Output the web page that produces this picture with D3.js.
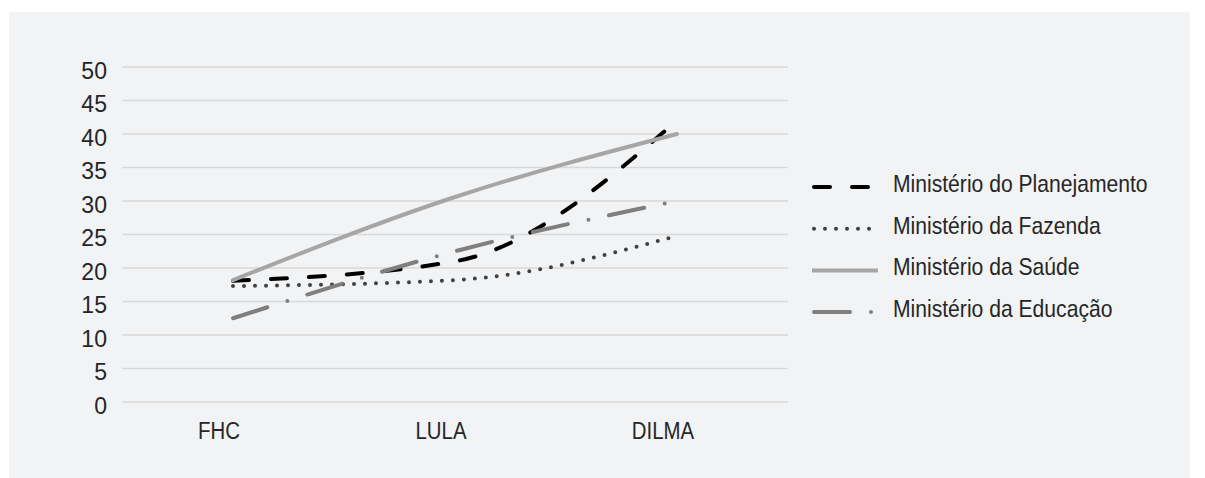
<!DOCTYPE html>
<html><head><meta charset="utf-8">
<script src="https://cdn.jsdelivr.net/npm/d3@7"></script>
<style>
html,body{margin:0;padding:0;background:#fff;}
svg{display:block;}
text{font-family:"Liberation Sans",Arial,sans-serif;fill:#262626;}
</style></head><body>
<svg id="c" width="1205" height="478"></svg>
<script>
const categories = ["FHC", "LULA", "DILMA"];
const planejamento = [18.1, 21, 42];
const fazenda = [17.3, 18.2, 24.8];
const saude = [18.2, 30.6, 40];
const educacao = [12.5, 22.5, 30];
const yTicks = [0, 5, 10, 15, 20, 25, 30, 35, 40, 45, 50];
const seriesNames = ["Ministério do Planejamento", "Ministério da Fazenda", "Ministério da Saúde", "Ministério da Educação"];

const styles = [
  {color: "#000000", dash: "16,22", width: 4},
  {color: "#404040", dash: "0,11", width: 4},
  {color: "#a6a6a6", dash: null, width: 4},
  {color: "#7f7f7f", dash: "36,21,0,21", width: 4}
];
const seriesData = [planejamento, fazenda, saude, educacao];

const FS = 24;       // font size
const SX_DIG = 0.96; // horizontal squeeze for digits
const SX_TXT = 0.85; // horizontal squeeze for words (condensed face)

const svg = d3.select("#c");
svg.append("rect").attr("x", 9).attr("y", 12).attr("width", 1181).attr("height", 466).attr("fill", "#f2f3f5");

const x = d3.scaleBand().domain(categories).range([122, 788]);
const y = d3.scaleLinear().domain([0, 50]).range([402, 67]);

// gridlines
svg.append("g").selectAll("line").data(yTicks).join("line")
  .attr("x1", 122).attr("x2", 788)
  .attr("y1", d => y(d)).attr("y2", d => y(d))
  .attr("stroke", "#d9d9d9").attr("stroke-width", 1.3);

// y axis
const ya = svg.append("g").attr("transform", "translate(122,0)")
  .call(d3.axisLeft(y).tickValues(yTicks).tickSize(0).tickPadding(15));
ya.select(".domain").remove();
ya.selectAll("text")
  .attr("x", -15 / SX_DIG).attr("dy", 11)
  .attr("transform", `scale(${SX_DIG},1)`)
  .style("font-size", FS + "px").attr("fill", "#262626");

// x axis
const xa = svg.append("g").attr("transform", "translate(0,402)")
  .call(d3.axisBottom(x).tickSize(0));
xa.select(".domain").remove();
xa.selectAll("text")
  .attr("x", -14 / SX_TXT).attr("y", 37).attr("dy", 0)
  .attr("transform", `scale(${SX_TXT},1)`)
  .style("font-size", FS + "px").attr("fill", "#262626");

const line = d3.line()
  .x((d, i) => x(categories[i]) + x.bandwidth() / 2)
  .y(d => y(d))
  .curve(d3.curveMonotoneX);

seriesData.forEach((s, k) => {
  const st = styles[k];
  svg.append("path").datum(s).attr("d", line)
    .attr("fill", "none").attr("stroke", st.color).attr("stroke-width", st.width)
    .attr("stroke-linecap", "round").attr("stroke-linejoin", "round")
    .attr("stroke-dasharray", st.dash);
});

// legend
const lg = svg.append("g");
seriesNames.forEach((name, k) => {
  const st = styles[k];
  const cy = 187 + k * 41.7;
  lg.append("line").attr("x1", k === 2 ? 812 : 814).attr("x2", k === 2 ? 878 : 876)
    .attr("y1", cy).attr("y2", cy)
    .attr("stroke", st.color).attr("stroke-width", st.width)
    .attr("stroke-linecap", k === 2 ? "butt" : "round")
    .attr("stroke-dasharray", st.dash);
  lg.append("text")
    .attr("transform", `translate(893,${cy + 5}) scale(${SX_TXT + 0.03},1)`)
    .text(name)
    .style("font-size", FS + "px");
});
</script>
</body></html>
